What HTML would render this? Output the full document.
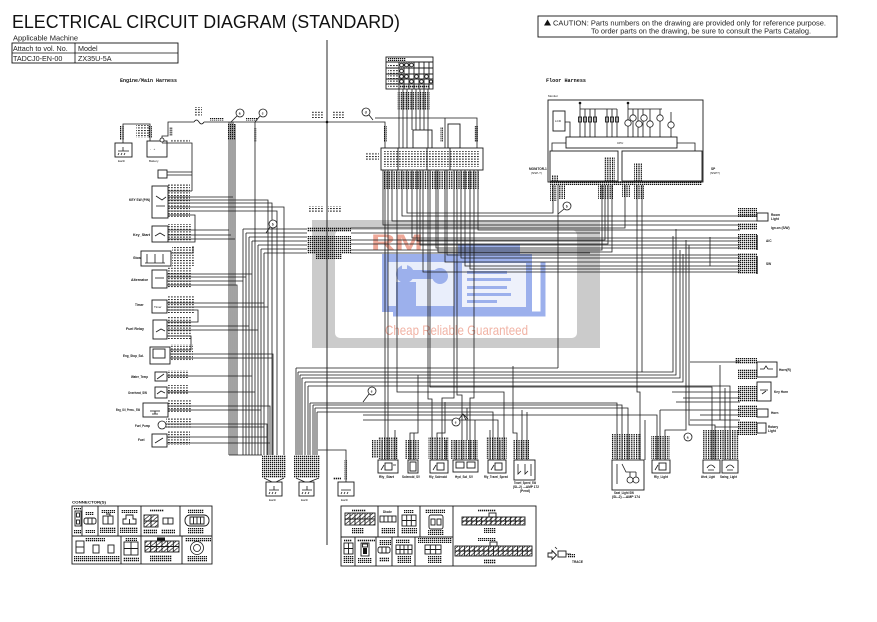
<!DOCTYPE html>
<html><head><meta charset="utf-8"><style>
html,body{margin:0;padding:0;background:#fff;}
body{width:877px;height:622px;overflow:hidden;position:relative;}
svg{position:absolute;left:0;top:0;}
</style></head><body>
<svg width="877" height="622" viewBox="0 0 877 622" xmlns="http://www.w3.org/2000/svg">
<defs>
<pattern id="d" width="2" height="2" patternUnits="userSpaceOnUse"><rect width="1.3" height="1.3" fill="#111"/></pattern>
<pattern id="v" width="2.4" height="2" patternUnits="userSpaceOnUse"><rect width="1.2" height="1.5" fill="#111"/></pattern>
<pattern id="l" width="3" height="2.6" patternUnits="userSpaceOnUse"><rect width="1.8" height="1" fill="#222"/></pattern>
<pattern id="h" width="4.8" height="4" patternUnits="userSpaceOnUse"><path d="M0 4L4.8 0" stroke="#222" stroke-width=".7"/></pattern>
</defs>
<style>
.w{fill:none;stroke:#1a1a1a;stroke-width:.8}
.b{fill:#fff;stroke:#1a1a1a;stroke-width:.9}
.n{fill:none;stroke:#1a1a1a;stroke-width:.9}
.t{font-family:"Liberation Sans",sans-serif;font-size:3px;fill:#111}
.tb{font-family:"Liberation Sans",sans-serif;font-size:3.2px;font-weight:bold;fill:#111}
.c{fill:#fff;stroke:#1a1a1a;stroke-width:.8}
</style>

<!-- Header -->
<text x="12" y="28" font-family="Liberation Sans, sans-serif" font-size="18" fill="#111" textLength="388" lengthAdjust="spacingAndGlyphs">ELECTRICAL CIRCUIT DIAGRAM (STANDARD)</text>
<text x="13" y="40.5" font-family="Liberation Sans, sans-serif" font-size="7.5" fill="#222">Applicable Machine</text>
<rect x="12" y="43" width="166" height="20" fill="none" stroke="#111" stroke-width=".9"/>
<path d="M12 53H178M75 43V63" stroke="#111" stroke-width=".8"/>
<text x="13" y="51" font-family="Liberation Sans, sans-serif" font-size="7.2" fill="#222">Attach to vol. No.</text>
<text x="78" y="51" font-family="Liberation Sans, sans-serif" font-size="7.2" fill="#222">Model</text>
<text x="13" y="61" font-family="Liberation Sans, sans-serif" font-size="7.2" fill="#222">TADCJ0-EN-00</text>
<text x="78" y="61" font-family="Liberation Sans, sans-serif" font-size="7.2" fill="#222">ZX35U-5A</text>

<rect x="538" y="16" width="299" height="21" fill="none" stroke="#111" stroke-width=".9"/>
<polygon points="544,25.5 547.5,19.5 551,25.5" fill="#111"/>
<text x="553" y="25.5" font-family="Liberation Sans, sans-serif" font-size="7" fill="#222" textLength="273" lengthAdjust="spacingAndGlyphs">CAUTION: Parts numbers on the drawing are provided only for reference purpose.</text>
<text x="591" y="33.5" font-family="Liberation Sans, sans-serif" font-size="7" fill="#222" textLength="220" lengthAdjust="spacingAndGlyphs">To order parts on the drawing, be sure to consult the Parts Catalog.</text>

<text x="120" y="82" font-family="Liberation Mono, monospace" font-size="5.5" font-weight="bold" fill="#111" textLength="57" lengthAdjust="spacingAndGlyphs">Engine/Main Harness</text>
<text x="546" y="82" font-family="Liberation Mono, monospace" font-size="5.5" font-weight="bold" fill="#111" textLength="40" lengthAdjust="spacingAndGlyphs">Floor Harness</text>

<!-- Watermark -->
<rect x="312" y="220" width="288" height="128" fill="#cbcbcb"/>
<rect x="335" y="230" width="242" height="108" rx="5" fill="#fff"/>
<rect x="458" y="244" width="62" height="14" fill="#9cb0ec"/>
<rect x="382" y="254" width="150" height="58" fill="#9cb0ec"/>
<rect x="388" y="262" width="66" height="44" fill="#e9eefb"/>
<circle cx="405" cy="274" r="9" fill="#9cb0ec"/>
<rect x="396" y="282" width="20" height="24" fill="#9cb0ec"/>
<rect x="412" y="270" width="30" height="9" fill="#9cb0ec"/>
<circle cx="440" cy="276" r="8" fill="#9cb0ec"/>
<rect x="402" y="264" width="5" height="5" fill="#e9eefb"/>
<rect x="462" y="263" width="64" height="44" fill="#eef1fb"/>
<rect x="467" y="271" width="40" height="3" fill="#9cb0ec"/>
<rect x="467" y="278" width="44" height="3" fill="#9cb0ec"/>
<rect x="467" y="286" width="40" height="3" fill="#9cb0ec"/>
<rect x="467" y="293" width="44" height="3" fill="#9cb0ec"/>
<rect x="467" y="300" width="30" height="3" fill="#9cb0ec"/>
<path d="M393 314H543V262" fill="none" stroke="#9cb0ec" stroke-width="5"/>
<text x="371" y="250" font-family="Liberation Sans, sans-serif" font-size="22" font-weight="bold" fill="#eea898" textLength="52" lengthAdjust="spacingAndGlyphs">RM</text>
<text x="385" y="335" font-family="Liberation Sans Narrow, Liberation Sans, sans-serif" font-size="14" fill="#f1b3a5" textLength="143" lengthAdjust="spacingAndGlyphs">Cheap Reliable Guaranteed</text>

<!-- Main divider -->
<path d="M327 40V545" stroke="#111" stroke-width=".9"/>
<circle cx="327" cy="122" r="1.3" fill="#111"/>

<!-- Left top: earth / battery / bus -->
<rect class="b" x="115" y="143" width="17" height="14"/>
<path class="w" d="M118 151H129M119 153l-1 2M122 153l-1 2M125 153l-1 2M123 151V147"/>
<text class="t" x="118" y="162">Earth</text>
<rect class="b" x="147" y="141" width="20" height="16"/>
<text class="t" x="150" y="150">-&#160;&#160;&#160;+</text>
<text class="t" x="149" y="162">Battery</text>
<circle cx="162" cy="140" r="2" class="c"/>
<path class="w" d="M123 143V124H150V141M162 138V136H168V122H372M162 143H192V191M167 172H192M167 175H192M168 191H192M168 197H233M168 200H268V455M168 203H272V455M168 207H284V455M168 211H277V455M168 215H195V242H168M171 253H193V246M168 230H229M168 235H231M168 239H235"/>
<rect x="194" y="119" width="10" height="6" fill="#fff"/>
<path class="w" d="M194 122q2.5-4 5 0q2.5 4 5 0"/>
<rect x="194" y="107" width="8" height="9" fill="url(#l)"/>
<rect x="120" y="126" width="4" height="14" fill="url(#v)"/>
<rect x="136" y="125" width="14" height="13" fill="url(#l)"/>
<rect x="148" y="126" width="4" height="12" fill="url(#v)"/>
<rect x="169" y="127" width="4" height="9" fill="url(#v)"/>
<rect x="170" y="139" width="20" height="3" fill="url(#l)"/>
<rect x="210" y="118" width="14" height="2.5" fill="url(#d)"/>
<rect x="246" y="118" width="12" height="2.5" fill="url(#d)"/>
<rect x="312" y="111" width="12" height="7" fill="url(#l)"/>
<rect x="332" y="111" width="12" height="7" fill="url(#l)"/>
<circle cx="240" cy="113" r="4" class="c"/><text class="tb" x="238.8" y="114.5">a</text>
<circle cx="263" cy="113" r="4" class="c"/><text class="tb" x="261.8" y="114.5">c</text>
<circle cx="366" cy="112" r="4" class="c"/><text class="tb" x="364.8" y="113.5">d</text>
<path class="w" d="M237 116L231 122M260 116L255 122M369 115L373 120"/>

<!-- Left bundle -->
<path class="w" d="M229 122V455M231 122V455M233 122V455M235 124V455M255 122V455
M243 229H307M243 229V455M246 233H307M246 233V455M249 237H307M249 237V455M252 241H307M252 241V455M258 245H307M258 245V455M261 249H307M261 249V455M264 253H307M264 253V455
M167 274H252M167 277H246M167 281H243M167 285H237V455
M167 303H264M167 307H268M167 310H198V322H167
M167 326H249M167 330H258M167 336H191V350H170
M170 354H273V455M170 358H272M167 376H252M167 392H255
M168 406H270V455M168 410H261M166 424H267V455M166 427H264M167 437H267M167 443H270M229 455H262"/>
<rect x="228" y="124" width="8" height="16" fill="url(#d)"/>
<rect x="254" y="128" width="3" height="14" fill="url(#v)"/>
<circle cx="273" cy="224" r="4" class="c"/><text class="tb" x="271.8" y="225.5">b</text>
<path class="w" d="M270 227L266 233"/>

<!-- Left components -->
<rect class="b" x="158" y="170" width="9" height="8"/>
<rect class="b" x="152" y="186" width="16" height="32"/>
<path class="w" d="M156 196l6 4l4-3M156 206h9"/>
<rect class="b" x="152" y="226" width="16" height="16"/>
<path class="w" d="M155 236l5-3l5 3"/>
<rect class="b" x="141" y="251" width="30" height="15"/>
<path class="w" d="M147 254v9M155 254v9M163 254v9M145 263h20"/>
<rect class="b" x="152" y="270" width="15" height="18"/>
<path class="w" d="M155 278h9"/>
<rect class="b" x="152" y="300" width="15" height="13"/>
<text class="t" x="154" y="308">Timer</text>
<rect class="b" x="153" y="320" width="14" height="19"/>
<path class="w" d="M156 332l5-3l4 2"/>
<rect class="b" x="150" y="347" width="20" height="17"/>
<rect class="n" x="153" y="349" width="12" height="9"/>
<rect class="b" x="155" y="372" width="12" height="9"/>
<path class="w" d="M157 379l7-5"/>
<rect class="b" x="155" y="387" width="12" height="11"/>
<path class="w" d="M157 394l4-3l4 2"/>
<rect class="b" x="143" y="403" width="25" height="14"/>
<path class="w" d="M150 411h10M155 411v3M152 414h6"/>
<circle cx="162" cy="425" r="4" class="c"/>
<rect class="b" x="152" y="434" width="15" height="13"/>
<path class="w" d="M155 443l8-5"/>
<text class="tb" x="129" y="201" textLength="21" lengthAdjust="spacingAndGlyphs">KEY SW (P/N)</text>
<text class="tb" x="133" y="236" textLength="17" lengthAdjust="spacingAndGlyphs">Key_Start</text>
<text class="tb" x="133" y="259">Glow</text>
<text class="tb" x="131" y="281" textLength="17" lengthAdjust="spacingAndGlyphs">Alternator</text>
<text class="tb" x="135" y="306">Timer</text>
<text class="tb" x="126" y="330" textLength="18" lengthAdjust="spacingAndGlyphs">Fuel Relay</text>
<text class="tb" x="123" y="357" textLength="21" lengthAdjust="spacingAndGlyphs">Eng_Stop_Sol.</text>
<text class="tb" x="131" y="378" textLength="17" lengthAdjust="spacingAndGlyphs">Water_Temp</text>
<text class="tb" x="128" y="394" textLength="19" lengthAdjust="spacingAndGlyphs">Overheat_SW</text>
<text class="tb" x="116" y="411" textLength="24" lengthAdjust="spacingAndGlyphs">Eng_Oil_Press._SW</text>
<text class="tb" x="135" y="427" textLength="15" lengthAdjust="spacingAndGlyphs">Fuel_Pump</text>
<text class="tb" x="138" y="441">Fuel</text>
<rect x="168" y="184" width="22" height="33" fill="url(#l)"/>
<rect x="168" y="224" width="24" height="18" fill="url(#l)"/>
<rect x="172" y="247" width="22" height="19" fill="url(#l)"/>
<rect x="168" y="266" width="24" height="22" fill="url(#l)"/>
<rect x="168" y="296" width="26" height="17" fill="url(#l)"/>
<rect x="168" y="317" width="24" height="22" fill="url(#l)"/>
<rect x="171" y="344" width="22" height="17" fill="url(#l)"/>
<rect x="168" y="370" width="20" height="8" fill="url(#l)"/>
<rect x="168" y="385" width="20" height="10" fill="url(#l)"/>
<rect x="168" y="400" width="24" height="12" fill="url(#l)"/>
<rect x="166" y="418" width="26" height="10" fill="url(#l)"/>
<rect x="168" y="431" width="22" height="14" fill="url(#l)"/>

<!-- Earths -->
<rect x="262" y="455" width="24" height="23" fill="url(#d)"/>
<path class="w" d="M264 478L272 482M284 478L276 482"/>
<rect class="b" x="266" y="482" width="16" height="14"/>
<path class="w" d="M269 490H279M270 492l-1 2M273 492l-1 2M276 492l-1 2M274 490v-4"/>
<text class="t" x="269" y="501">Earth</text>
<path class="w" d="M296 368V455M298 372V455M300 375V455M302 378V455M305 382V455M308 386V455M310 403V455M313 405V455M315 408V455M317 412V455M318 450H346V482"/>
<rect x="294" y="455" width="26" height="23" fill="url(#d)"/>
<path class="w" d="M296 478L305 482M319 478L309 482"/>
<rect class="b" x="299" y="482" width="15" height="14"/>
<path class="w" d="M302 490H312M303 492l-1 2M306 492l-1 2M309 492l-1 2M307 490v-4"/>
<text class="t" x="301" y="501">Earth</text>
<rect x="344" y="460" width="4" height="20" fill="url(#v)"/>
<rect x="333" y="477" width="8" height="3" fill="url(#d)"/>
<rect class="b" x="338" y="482" width="16" height="14"/>
<path class="w" d="M341 490H351M342 492l-1 2M345 492l-1 2M348 492l-1 2"/>
<text class="t" x="341" y="501">Earth</text>

<!-- Central connector block -->
<rect x="309" y="206" width="14" height="6" fill="url(#l)"/>
<rect x="328" y="206" width="14" height="6" fill="url(#l)"/>
<rect x="307" y="227" width="44" height="5" fill="url(#d)"/>
<rect x="307" y="236" width="44" height="18" fill="url(#d)"/>
<rect x="316" y="254" width="26" height="5" fill="url(#d)"/>
<path class="w" d="M351 228H625V185M351 233H600M351 240H605V185M351 244H608V185M351 250H602V185M351 253H590"/>

<!-- Key table -->
<rect class="b" x="386" y="57" width="47" height="32"/>
<path class="n" d="M386 62H433M386 68H433M386 74H433M386 79H433M386 84H433M399 62V89M404 62V89M409 62V89M414 62V89M419 62V89M424 62V89M429 62V89"/>
<rect x="388" y="58" width="18" height="3" fill="url(#d)"/>
<rect x="388" y="64" width="10" height="24" fill="url(#l)"/>
<g class="c"><circle cx="401.5" cy="65" r="1.8"/><circle cx="406.5" cy="65" r="1.8"/><circle cx="411.5" cy="65" r="1.8"/><circle cx="401.5" cy="71" r="1.8"/><circle cx="401.5" cy="76.5" r="1.8"/><circle cx="406.5" cy="76.5" r="1.8"/><circle cx="416.5" cy="76.5" r="1.8"/><circle cx="426.5" cy="76.5" r="1.8"/><circle cx="401.5" cy="81.5" r="1.8"/><circle cx="411.5" cy="81.5" r="1.8"/><circle cx="421.5" cy="81.5" r="1.8"/><circle cx="431" cy="81.5" r="1.5"/></g>
<rect x="399" y="85" width="30" height="3" fill="url(#d)"/>

<!-- Central box & wires above -->
<path class="w" d="M399 89V148M403 89V148M407 89V148M412 89V130M416 89V130M420 89V130M424 89V130M428 89V148M372 122H385V148M375 118H445V148M445 118H477V148"/>
<rect x="397" y="92" width="33" height="18" fill="url(#v)"/>
<rect x="383" y="126" width="4" height="16" fill="url(#v)"/>
<rect x="440" y="127" width="4" height="15" fill="url(#v)"/>
<rect x="474" y="126" width="4" height="16" fill="url(#v)"/>
<rect class="n" x="413" y="130" width="19" height="18"/>
<rect class="n" x="448" y="124" width="12" height="24"/>
<rect class="b" x="381" y="148" width="102" height="22"/>
<rect x="384" y="151" width="96" height="16" fill="url(#l)"/>
<path class="n" d="M398 148V170M427 148V170M450 148V170"/>
<rect x="366" y="152" width="13" height="9" fill="url(#l)"/>

<!-- Central wires below -->
<path class="w" d="M383 170V225H740M385 170V460M388 170V460M392 170V221H757M402 170V216H757M407 170V213H553V185M412 170V238H740M417 170V241H740M420 170V245H740M423 170V272H740M428 170V399H432V460M436 170V248H740M438 170V252H612V185M445 170V262H740M447 170V255H740M454 170V398H442V460M457 170V395H462V460M461 170V258H740M465 170V266H740M470 170V269H740M474 170V398H470V460M478 170V230H740"/>
<rect x="383" y="171" width="96" height="18" fill="url(#v)"/>

<!-- Monitor -->
<text class="t" x="548" y="97">Monitor</text>
<rect class="b" x="548" y="100" width="155" height="82"/>
<rect class="b" x="553" y="111" width="12" height="20"/>
<text class="t" x="555" y="122">LCD</text>
<rect class="b" x="566" y="137" width="111" height="11"/>
<text class="t" x="617" y="144">CPU</text>
<rect class="b" x="550" y="151" width="68" height="30"/>
<rect class="b" x="622" y="151" width="80" height="30"/>
<path class="w" d="M565 122H570V137M566 143H552V151M677 143H695V151M580 109H617M580 103V137M585 109V137M590 109V137M595 109V137M607 109V137M612 109V137M617 109V137M628 103V137M628 109H662M633 109V137M638 109V137M643 109V137M650 109V137M660 109V137M671 112V137"/>
<circle cx="580" cy="103" r="1.3" fill="#111"/><circle cx="628" cy="103" r="1.3" fill="#111"/>
<g class="n"><rect x="578.5" y="117" width="3" height="5"/><rect x="583.5" y="117" width="3" height="5"/><rect x="588.5" y="117" width="3" height="5"/><rect x="593.5" y="117" width="3" height="5"/><rect x="605.5" y="117" width="3" height="5"/><rect x="610.5" y="117" width="3" height="5"/><rect x="615.5" y="117" width="3" height="5"/></g>
<g class="c"><circle cx="628" cy="123" r="3.2"/><circle cx="633" cy="118" r="3.2"/><circle cx="639" cy="124" r="3.2"/><circle cx="644" cy="118" r="3.2"/><circle cx="650" cy="124" r="3.2"/><circle cx="660" cy="118" r="3.2"/><circle cx="671" cy="125" r="3.2"/></g>
<rect x="604" y="157" width="11" height="24" fill="url(#v)"/>
<rect x="634" y="163" width="8" height="18" fill="url(#v)"/>
<rect x="552" y="175" width="6" height="6" fill="url(#v)"/>
<rect x="550" y="181" width="152" height="4" fill="url(#d)"/>
<rect x="550" y="185" width="7" height="16" fill="url(#v)"/>
<rect x="559" y="185" width="6" height="14" fill="url(#v)"/>
<rect x="598" y="185" width="15" height="14" fill="url(#v)"/>
<rect x="622" y="185" width="8" height="12" fill="url(#v)"/>
<rect x="634" y="185" width="10" height="14" fill="url(#v)"/>
<text class="tb" x="529" y="170">MONITOR-1</text>
<text class="t" x="531" y="174">(NSP-?)</text>
<text class="tb" x="711" y="170">SP</text>
<text class="t" x="710" y="174">(NSP?)</text>
<path class="w" d="M558 185V368M642 185V372M637 185V392H640V460"/>
<circle cx="567" cy="206" r="4" class="c"/><text class="tb" x="565.8" y="207.5">b</text>
<path class="w" d="M564 209L558 214"/>

<!-- Right column -->
<rect x="738" y="208" width="19" height="9" fill="url(#d)"/>
<rect x="738" y="223" width="19" height="7" fill="url(#d)"/>
<rect x="738" y="234" width="19" height="16" fill="url(#d)"/>
<rect x="738" y="253" width="19" height="21" fill="url(#d)"/>
<rect class="b" x="757" y="213" width="11" height="8"/>
<path d="M757 235V250M757 256V274" stroke="#111" stroke-width="1.3"/>
<path class="w" d="M710 237V266"/>
<text class="tb" x="771" y="216">Room</text><text class="tb" x="771" y="220">Light</text>
<text class="tb" x="771" y="229">Ign.on (S/W)</text>
<text class="tb" x="766" y="242">A/C</text>
<text class="tb" x="766" y="265">SW</text>

<!-- Lower horizontals -->
<path class="w" d="M296 368H558M298 372H673V236M300 375H676V229M302 378H680V250M305 382H683V254M308 386H730V427H740M310 403H617V460M313 405H622V460M315 408H628V460M317 412H493V460M363 415H657V460M363 420H498V460M397 170V392H504V460M430 170V387H712V460M418 375V433H410V460M414 433V460M445 402V433H437V460M467 408V440M513 366V433H517V460M522 410V460M527 412V460M686 240V430H665V460M689 245V425H715V460M660 410V460M725 388V460M730 427V460M690 362H740M720 365V420M672 392H740M683 398H740M676 402H740M660 410H740M700 415H740M690 420H740M715 427H740M382 440V460M395 430V460M446 440V460M456 440V460M475 420V460M490 430V460M500 440V460M645 420V460"/>
<circle cx="372" cy="391" r="4" class="c"/><text class="tb" x="370.8" y="392.5">e</text>
<path class="w" d="M369 394L363 402"/>
<circle cx="456" cy="422" r="4" class="c"/><text class="tb" x="454.8" y="423.5">e</text>
<path class="w" d="M459 419L463 414L468 419M463 414L466 420"/>
<circle cx="688" cy="437" r="4" class="c"/><text class="tb" x="686.8" y="438.5">a</text>

<!-- Lower right components -->
<rect x="735" y="358" width="22" height="6" fill="url(#d)"/>
<rect x="738" y="369" width="19" height="10" fill="url(#d)"/>
<rect x="738" y="386" width="19" height="16" fill="url(#d)"/>
<rect x="738" y="405" width="19" height="12" fill="url(#d)"/>
<rect x="738" y="421" width="19" height="14" fill="url(#d)"/>
<rect class="b" x="757" y="362" width="20" height="15"/>
<path class="w" d="M760 369h4l2-3l2 3h5"/>
<rect class="b" x="757" y="382" width="14" height="19"/>
<path class="w" d="M760 390h8M762 394l4-3"/>
<rect class="b" x="757" y="409" width="11" height="8"/>
<rect class="b" x="757" y="423" width="9" height="10"/>
<text class="tb" x="779" y="371">Horn(R)</text>
<text class="tb" x="774" y="393">Key Horn</text>
<text class="tb" x="771" y="414">Horn</text>
<text class="tb" x="768" y="428">Rotary</text><text class="tb" x="768" y="432">Light</text>

<!-- Bottom components -->
<rect x="372" y="440" width="6" height="18" fill="url(#v)"/>
<rect x="378" y="437" width="20" height="22" fill="url(#v)"/>
<rect x="405" y="440" width="14" height="19" fill="url(#v)"/>
<rect x="428" y="437" width="21" height="22" fill="url(#v)"/>
<rect x="451" y="440" width="27" height="19" fill="url(#v)"/>
<rect x="486" y="437" width="21" height="22" fill="url(#v)"/>
<rect x="513" y="440" width="16" height="19" fill="url(#v)"/>
<rect x="611" y="434" width="30" height="25" fill="url(#v)"/>
<rect x="651" y="436" width="19" height="23" fill="url(#v)"/>
<rect x="703" y="430" width="36" height="29" fill="url(#v)"/>
<rect class="b" x="378" y="460" width="20" height="13"/><rect class="n" x="385" y="463" width="7" height="7"/><path class="w" d="M381 470l3-5M393 465h3"/>
<rect class="b" x="408" y="460" width="10" height="13"/><rect class="n" x="410" y="462" width="6" height="9"/>
<rect class="b" x="430" y="460" width="18" height="13"/><rect class="n" x="437" y="463" width="7" height="7"/><path class="w" d="M433 470l3-5"/>
<rect class="b" x="453" y="460" width="25" height="12"/><rect class="n" x="456" y="462" width="8" height="6"/><rect class="n" x="467" y="462" width="8" height="6"/>
<rect class="b" x="488" y="460" width="18" height="13"/><rect class="n" x="495" y="463" width="7" height="7"/><path class="w" d="M491 470l3-5"/>
<rect class="b" x="514" y="460" width="21" height="20"/><path class="w" d="M518 464v10l3-3M525 464v10l3-3M531 464v12"/>
<rect class="b" x="612" y="460" width="32" height="30"/><path class="w" d="M617 464v20M622 464l4 8h10M630 472v8M636 472v8"/><circle cx="630" cy="480" r="3" class="c"/><circle cx="636" cy="480" r="3" class="c"/>
<rect class="b" x="652" y="460" width="18" height="13"/><rect class="n" x="659" y="463" width="7" height="7"/><path class="w" d="M655 470l3-5"/>
<rect class="b" x="703" y="460" width="17" height="13"/><path class="w" d="M707 468q4-6 8 0M708 470h6"/>
<rect class="b" x="722" y="460" width="16" height="13"/><path class="w" d="M726 468q4-6 8 0M727 470h6"/>
<text class="tb" x="379" y="478" textLength="15" lengthAdjust="spacingAndGlyphs">Rly_Start</text>
<text class="tb" x="402" y="478" textLength="18" lengthAdjust="spacingAndGlyphs">Solenoid_SV</text>
<text class="tb" x="429" y="478" textLength="18" lengthAdjust="spacingAndGlyphs">Rly_Solenoid</text>
<text class="tb" x="455" y="478" textLength="18" lengthAdjust="spacingAndGlyphs">Hyd_Sol_SV</text>
<text class="tb" x="484" y="478" textLength="24" lengthAdjust="spacingAndGlyphs">Rly_Travel_Speed</text>
<text class="tb" x="514" y="484" textLength="22" lengthAdjust="spacingAndGlyphs">Travel_Speed_SW</text>
<text class="tb" x="513" y="488" textLength="26" lengthAdjust="spacingAndGlyphs">(SL-2) ---AMP 172</text>
<text class="tb" x="520" y="492">(Pend)</text>
<text class="tb" x="614" y="494" textLength="20" lengthAdjust="spacingAndGlyphs">Seat_Light SW</text>
<text class="tb" x="612" y="498" textLength="28" lengthAdjust="spacingAndGlyphs">(SL-2) ---AMP 174</text>
<text class="tb" x="654" y="478" textLength="14" lengthAdjust="spacingAndGlyphs">Rly_Light</text>
<text class="tb" x="701" y="478" textLength="14" lengthAdjust="spacingAndGlyphs">Work_Light</text>
<text class="tb" x="720" y="478" textLength="17" lengthAdjust="spacingAndGlyphs">Swing_Light</text>

<!-- Bottom-left connector table -->
<text class="tb" x="72" y="503.5" textLength="34" lengthAdjust="spacingAndGlyphs">CONNECTOR(S)</text>
<rect class="b" x="72" y="506" width="140" height="58"/>
<path class="n" d="M72 536H212M82 506V536M98 506V536M118 506V536M141 506V536M180 506V536M121 536V564M141 536V564M182 536V564"/>
<rect class="n" x="75" y="511" width="6" height="15"/><rect class="n" x="76.5" y="513" width="3" height="4"/><rect class="n" x="76.5" y="520" width="3" height="4"/>
<rect x="74" y="508" width="7" height="2" fill="url(#d)"/><rect x="74" y="530" width="7" height="4" fill="url(#d)"/>
<rect class="n" x="84" y="518" width="12" height="6" rx="2"/><path class="n" d="M88 518v6M92 518v6"/>
<rect x="85" y="512" width="9" height="3" fill="url(#d)"/><rect x="85" y="530" width="10" height="3" fill="url(#d)"/>
<rect class="n" x="103" y="516" width="10" height="8"/><path class="n" d="M108 516v8M106 514h4v2"/>
<rect x="101" y="510" width="14" height="3" fill="url(#d)"/><rect x="100" y="527" width="16" height="6" fill="url(#d)"/>
<path class="n" d="M126 515h7v4h3v5h-13v-5h3z"/><path class="n" d="M129.5 519v5"/>
<rect x="121" y="510" width="17" height="3" fill="url(#d)"/><rect x="120" y="527" width="18" height="6" fill="url(#d)"/>
<rect class="n" x="144" y="515" width="14" height="12"/><rect x="144" y="515" width="14" height="12" fill="url(#h)"/><path class="n" d="M151 515v12M144 521h14"/>
<rect class="n" x="163" y="518" width="10" height="6"/><path class="n" d="M168 518v6"/>
<rect x="150" y="509" width="14" height="3" fill="url(#d)"/><rect x="143" y="529" width="14" height="5" fill="url(#d)"/><rect x="161" y="529" width="14" height="5" fill="url(#d)"/>
<rect class="n" x="185" y="515" width="24" height="11" rx="5"/><path class="n" d="M190 517v7h14v-7zM193.5 517v7M197 517v7M200.5 517v7"/>
<rect x="188" y="509" width="16" height="4" fill="url(#d)"/><rect x="188" y="528" width="16" height="6" fill="url(#d)"/>
<rect x="85" y="538" width="20" height="4" fill="url(#d)"/>
<rect class="n" x="76" y="541" width="8" height="12"/><path class="n" d="M76 547h8"/>
<rect class="n" x="93" y="545" width="6" height="8"/><rect class="n" x="108" y="545" width="6" height="8"/>
<rect x="74" y="556" width="46" height="6" fill="url(#d)"/>
<rect x="125" y="538" width="12" height="3" fill="url(#d)"/>
<rect class="n" x="124" y="542" width="14" height="13"/><path class="n" d="M131 542v13M124 548.5h14"/>
<rect x="123" y="557" width="16" height="5" fill="url(#d)"/>
<rect x="157" y="537.5" width="8" height="3" fill="#111"/>
<rect class="n" x="145" y="541" width="34" height="11"/><rect x="145" y="541" width="34" height="11" fill="url(#h)"/><path class="n" d="M145 546.5h34M150.7 541v11M156.3 541v11M162 541v11M167.7 541v11M173.3 541v11"/>
<rect x="150" y="555" width="22" height="7" fill="url(#d)"/>
<rect x="185" y="538" width="26" height="4" fill="url(#d)"/>
<circle cx="197" cy="548" r="6.5" class="c"/><circle cx="197" cy="548" r="3.5" class="c"/>
<rect x="187" y="556" width="20" height="6" fill="url(#d)"/>

<!-- Bottom-middle connector table -->
<rect class="b" x="341" y="506" width="195" height="60"/>
<path class="n" d="M341 537H453M453 506V566M378 506V537M398 506V537M420 506V537M355 537V566M376 537V566M392 537V566M415 537V566"/>
<rect x="352" y="509" width="14" height="3" fill="url(#d)"/>
<rect class="n" x="345" y="513" width="30" height="12"/><rect x="345" y="513" width="30" height="12" fill="url(#h)"/><path class="n" d="M345 519h30M350 513v12M355 513v12M360 513v12M365 513v12M370 513v12"/>
<rect x="352" y="528" width="12" height="6" fill="url(#d)"/>
<text class="tb" x="383" y="513">Diode</text>
<rect class="n" x="380" y="516" width="16" height="6"/><path class="n" d="M384 516v6M388 516v6M392 516v6"/>
<rect x="381" y="528" width="14" height="6" fill="url(#d)"/>
<rect x="404" y="510" width="10" height="3" fill="url(#d)"/>
<rect class="n" x="402" y="515" width="14" height="11"/><path class="n" d="M402 520.5h14M406.7 515v11M411.3 515v11"/>
<rect x="401" y="528" width="16" height="6" fill="url(#d)"/>
<rect x="425" y="509" width="20" height="4" fill="url(#d)"/>
<rect class="n" x="429" y="515" width="14" height="14" rx="2"/><rect class="n" x="431" y="519" width="4" height="6"/><rect class="n" x="437" y="519" width="4" height="6"/>
<rect x="428" y="530" width="16" height="5" fill="url(#d)"/>
<rect x="478" y="509" width="18" height="3" fill="url(#d)"/>
<rect class="n" x="489" y="513" width="7" height="4"/>
<rect class="n" x="462" y="517" width="63" height="8"/><rect x="462" y="517" width="63" height="8" fill="url(#h)"/>
<path class="n" d="M462 521H525M466.8 517v8M471.7 517v8M476.5 517v8M481.4 517v8M486.2 517v8M491 517v8M495.9 517v8M500.7 517v8M505.6 517v8M510.4 517v8M515.3 517v8M520.1 517v8"/>
<rect x="484" y="528" width="12" height="5" fill="url(#d)"/>
<rect x="478" y="538" width="18" height="3" fill="url(#d)"/>
<rect class="n" x="490" y="542" width="7" height="4"/>
<rect class="n" x="455" y="546" width="77" height="10"/><rect x="455" y="546" width="77" height="10" fill="url(#h)"/>
<path class="n" d="M455 551H532M459.8 546v10M464.6 546v10M469.4 546v10M474.3 546v10M479.1 546v10M483.9 546v10M488.7 546v10M493.5 546v10M498.3 546v10M503.1 546v10M508 546v10M512.8 546v10M517.6 546v10M522.4 546v10M527.2 546v10"/>
<rect x="484" y="559" width="12" height="5" fill="url(#d)"/>
<rect x="344" y="539" width="8" height="3" fill="url(#d)"/>
<rect class="n" x="344" y="543" width="9" height="11"/><path class="n" d="M348.5 543v11M344 548.5h9"/>
<rect x="343" y="556" width="11" height="7" fill="url(#d)"/>
<rect x="357" y="539" width="18" height="3" fill="url(#d)"/>
<rect class="n" x="361" y="543" width="8" height="13"/><rect x="363" y="548" width="4" height="6" fill="#111"/><rect class="n" x="362.5" y="544" width="5" height="3"/>
<rect x="358" y="558" width="14" height="5" fill="url(#d)"/>
<rect x="379" y="540" width="12" height="5" fill="url(#d)"/>
<rect class="n" x="378" y="547" width="12" height="6" rx="2"/><path class="n" d="M382 547v6M386 547v6"/>
<rect x="379" y="557" width="10" height="5" fill="url(#d)"/>
<rect x="396" y="539" width="14" height="4" fill="url(#d)"/>
<rect class="n" x="396" y="545" width="16" height="9"/><path class="n" d="M396 549.5h16M400 545v9M404 545v9M408 545v9"/>
<rect x="397" y="556" width="14" height="7" fill="url(#d)"/>
<rect x="418" y="538" width="34" height="5" fill="url(#d)"/>
<rect class="n" x="425" y="545" width="16" height="9"/><path class="n" d="M425 549.5h16M430.3 545v9M435.7 545v9"/>
<rect x="428" y="556" width="14" height="7" fill="url(#d)"/>

<!-- Arrow legend -->
<path class="n" d="M548 553H552V550.5L556.5 555L552 559.5V557H548Z"/>
<rect class="n" x="558" y="551" width="8" height="6"/>
<path class="w" d="M566 554H571M557 549l-2-2"/>
<rect x="568" y="554" width="7" height="4" fill="url(#d)"/>
<text class="tb" x="572" y="563">TRACE</text>
</svg>
</body></html>
